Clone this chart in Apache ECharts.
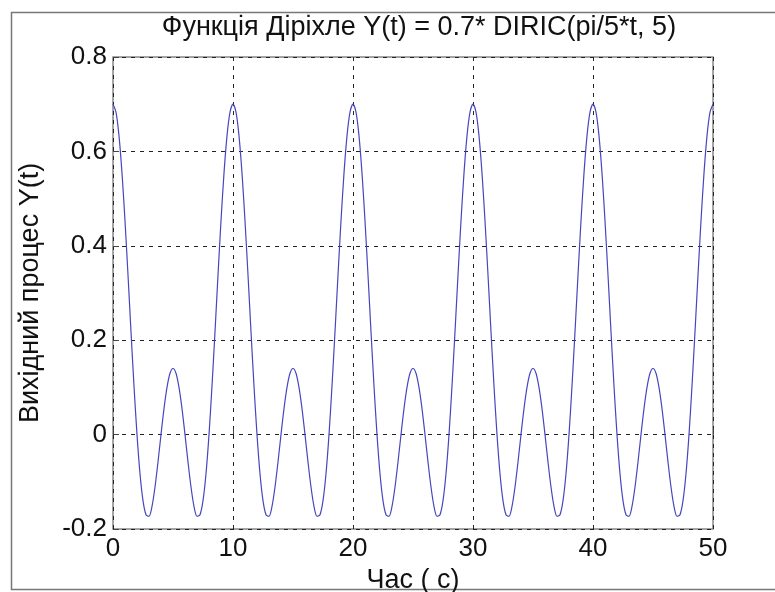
<!DOCTYPE html>
<html>
<head>
<meta charset="utf-8">
<script src="https://cdn.jsdelivr.net/npm/echarts@6/dist/echarts.min.js"></script>
<style>
  html, body { margin: 0; padding: 0; background: #fff; }
  #chart { width: 775px; height: 592px; }
</style>
</head>
<body>
<div id="chart"></div>
<script>
// t, seconds (sampled every 0.25 s)
const timeValues = [
  0, 0.25, 0.5, 0.75, 1, 1.25, 1.5, 1.75, 2, 2.25, 2.5, 2.75, 3, 3.25, 3.5, 3.75, 4, 4.25, 4.5, 4.75,
  5, 5.25, 5.5, 5.75, 6, 6.25, 6.5, 6.75, 7, 7.25, 7.5, 7.75, 8, 8.25, 8.5, 8.75, 9, 9.25, 9.5, 9.75,
  10, 10.25, 10.5, 10.75, 11, 11.25, 11.5, 11.75, 12, 12.25, 12.5, 12.75, 13, 13.25, 13.5, 13.75, 14, 14.25, 14.5, 14.75,
  15, 15.25, 15.5, 15.75, 16, 16.25, 16.5, 16.75, 17, 17.25, 17.5, 17.75, 18, 18.25, 18.5, 18.75, 19, 19.25, 19.5, 19.75,
  20, 20.25, 20.5, 20.75, 21, 21.25, 21.5, 21.75, 22, 22.25, 22.5, 22.75, 23, 23.25, 23.5, 23.75, 24, 24.25, 24.5, 24.75,
  25, 25.25, 25.5, 25.75, 26, 26.25, 26.5, 26.75, 27, 27.25, 27.5, 27.75, 28, 28.25, 28.5, 28.75, 29, 29.25, 29.5, 29.75,
  30, 30.25, 30.5, 30.75, 31, 31.25, 31.5, 31.75, 32, 32.25, 32.5, 32.75, 33, 33.25, 33.5, 33.75, 34, 34.25, 34.5, 34.75,
  35, 35.25, 35.5, 35.75, 36, 36.25, 36.5, 36.75, 37, 37.25, 37.5, 37.75, 38, 38.25, 38.5, 38.75, 39, 39.25, 39.5, 39.75,
  40, 40.25, 40.5, 40.75, 41, 41.25, 41.5, 41.75, 42, 42.25, 42.5, 42.75, 43, 43.25, 43.5, 43.75, 44, 44.25, 44.5, 44.75,
  45, 45.25, 45.5, 45.75, 46, 46.25, 46.5, 46.75, 47, 47.25, 47.5, 47.75, 48, 48.25, 48.5, 48.75, 49, 49.25, 49.5, 49.75,
  50
];
// Y(t)
const outputValues = [
  0.700, 0.683, 0.633, 0.554, 0.453, 0.338, 0.218, 0.103, 0.000, -0.083, -0.140, -0.170, -0.173, -0.152, -0.111, -0.058, 0.000, 0.055, 0.100, 0.130,
  0.140, 0.130, 0.100, 0.055, 0.000, -0.058, -0.111, -0.152, -0.173, -0.170, -0.140, -0.083, 0.000, 0.103, 0.218, 0.338, 0.453, 0.554, 0.633, 0.683,
  0.700, 0.683, 0.633, 0.554, 0.453, 0.338, 0.218, 0.103, 0.000, -0.083, -0.140, -0.170, -0.173, -0.152, -0.111, -0.058, 0.000, 0.055, 0.100, 0.130,
  0.140, 0.130, 0.100, 0.055, 0.000, -0.058, -0.111, -0.152, -0.173, -0.170, -0.140, -0.083, 0.000, 0.103, 0.218, 0.338, 0.453, 0.554, 0.633, 0.683,
  0.700, 0.683, 0.633, 0.554, 0.453, 0.338, 0.218, 0.103, 0.000, -0.083, -0.140, -0.170, -0.173, -0.152, -0.111, -0.058, 0.000, 0.055, 0.100, 0.130,
  0.140, 0.130, 0.100, 0.055, 0.000, -0.058, -0.111, -0.152, -0.173, -0.170, -0.140, -0.083, 0.000, 0.103, 0.218, 0.338, 0.453, 0.554, 0.633, 0.683,
  0.700, 0.683, 0.633, 0.554, 0.453, 0.338, 0.218, 0.103, 0.000, -0.083, -0.140, -0.170, -0.173, -0.152, -0.111, -0.058, 0.000, 0.055, 0.100, 0.130,
  0.140, 0.130, 0.100, 0.055, 0.000, -0.058, -0.111, -0.152, -0.173, -0.170, -0.140, -0.083, 0.000, 0.103, 0.218, 0.338, 0.453, 0.554, 0.633, 0.683,
  0.700, 0.683, 0.633, 0.554, 0.453, 0.338, 0.218, 0.103, 0.000, -0.083, -0.140, -0.170, -0.173, -0.152, -0.111, -0.058, 0.000, 0.055, 0.100, 0.130,
  0.140, 0.130, 0.100, 0.055, 0.000, -0.058, -0.111, -0.152, -0.173, -0.170, -0.140, -0.083, 0.000, 0.103, 0.218, 0.338, 0.453, 0.554, 0.633, 0.683,
  0.700
];
const xTicks = [0, 10, 20, 30, 40, 50];
const yTicks = [-0.2, 0, 0.2, 0.4, 0.6, 0.8];

const chart = echarts.init(document.getElementById('chart'));
const font = 'Liberation Sans, Arial, sans-serif';

chart.setOption({
  animation: false,
  backgroundColor: '#fff',
  title: {
    text: 'Функція Діріхле Y(t) = 0.7* DIRIC(pi/5*t, 5)',
    left: 414,
    textAlign: 'center',
    top: 9,
    textStyle: { fontFamily: font, fontSize: 27, fontWeight: 'normal', color: '#111' }
  },
  graphic: [{
    type: 'rect',
    shape: { x: 11.5, y: 12.5, width: 770, height: 577 },
    style: { fill: 'none', stroke: '#777', lineWidth: 1.5 },
    silent: true
  }],
  grid: {
    left: 113, top: 57, right: 62, bottom: 63,
    containLabel: false,
    outerBoundsMode: 'none',
    show: true, borderColor: '#888', borderWidth: 1.5
  },
  xAxis: {
    type: 'value',
    min: xTicks[0], max: xTicks[xTicks.length - 1], interval: 10,
    name: 'Час ( с)',
    nameLocation: 'middle',
    nameGap: 38,
    nameTextStyle: { fontFamily: font, fontSize: 27, color: '#111' },
    axisLine: { show: false },
    axisTick: { show: true, inside: true, length: 6, lineStyle: { color: '#444' } },
    axisLabel: { fontFamily: font, fontSize: 26, color: '#111', margin: 7 },
    splitLine: { show: true, lineStyle: { color: '#222', type: [4, 5], width: 1 } }
  },
  yAxis: {
    type: 'value',
    min: yTicks[0], max: yTicks[yTicks.length - 1], interval: 0.2,
    name: 'Вихідний процес Y(t)',
    nameLocation: 'middle',
    nameGap: 69,
    nameTextStyle: { fontFamily: font, fontSize: 27, color: '#111' },
    axisLine: { show: false },
    axisTick: { show: true, inside: true, length: 6, lineStyle: { color: '#444' } },
    axisLabel: {
      fontFamily: font, fontSize: 26, color: '#111', margin: 6,
      formatter: v => String(Math.round(v * 10) / 10)
    },
    splitLine: { show: true, lineStyle: { color: '#222', type: [4, 5], width: 1 } }
  },
  series: [{
    type: 'line',
    data: timeValues.map((t, i) => [t, outputValues[i]]),
    smooth: 0.3,
    showSymbol: false,
    lineStyle: { color: '#4646c0', width: 1.2 }
  }]
});
</script>
</body>
</html>
